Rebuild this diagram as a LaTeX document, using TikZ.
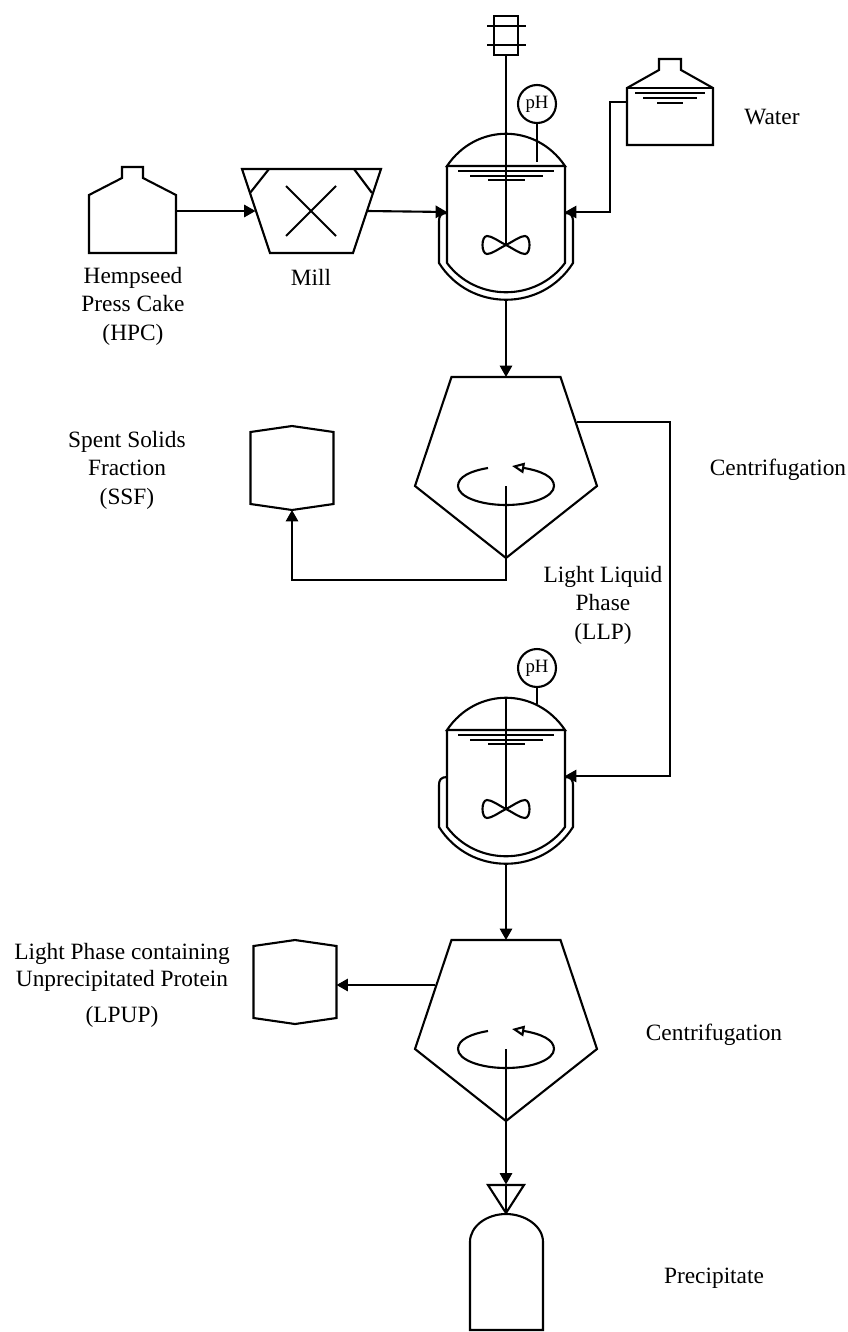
\documentclass[tikz,border=0pt]{standalone}
\usepackage{fontspec}
\setmainfont{Liberation Serif}
\usepackage{tikz}
\usetikzlibrary{arrows.meta}

\tikzset{
    port/.style={inner sep=0pt, outer sep=0pt, minimum size=0pt},
    body/.style={inner sep=0pt, outer sep=0pt, minimum height=0pt},
    label/.style={align=center, inner sep=0pt, font=\fontsize{13.3}{16.2}\selectfont},
    gauge/.style={draw, circle, inner sep=0pt, minimum size=0.76cm, font=\fontsize{10.7}{12}\selectfont},
    flow/.style={-{Triangle[length=6.5pt, width=7pt]}},
    reactor/.pic={
        \draw (-59,0) .. controls (-30,-43) and (30,-43) .. (59,0) -- cycle;
        \draw (-59,0) -- (-59,97) .. controls (-30,136) and (30,136) .. (59,97) -- (59,0);
        \draw (-59,47) .. controls (-65,47) and (-67,50) .. (-67,55) -- (-67,97)
            .. controls (-36,146) and (36,146) .. (67,97) -- (67,55)
            .. controls (67,50) and (65,47) .. (59,47);
        \draw (-48,5) -- (48,5);
        \draw (-36,10) -- (37,10);
        \draw (-18,14) -- (19,14);
        \draw (0,-32) -- (0,79);
        \foreach \s in {-1,1} {
            \draw (0,79) .. controls (\s*8,75) and (\s*14,70) .. (\s*19,70)
                .. controls (\s*25,70) and (\s*25,88) .. (\s*19,88)
                .. controls (\s*14,88) and (\s*8,83) .. (0,79);
        }
        \node[port] (-top) at (0,-32) {};
        \node[port] (-out) at (0,134) {};
        \node[body, minimum width=2.36cm] (-body) at (0,46) {};
    },
    centrifuge/.pic={
        \draw (-54.5,0) -- (54.5,0) -- (91,109) -- (0,181) -- (-91,109) -- cycle;
        \draw (0,109) -- (0,181);
        \draw[-{Triangle[open, length=7pt, width=6pt, fill=white]}] (-18,91)
            .. controls (-36,94) and (-48,100) .. (-48,109)
            .. controls (-48,119.5) and (-26.5,128) .. (0,128)
            .. controls (26.5,128) and (48,119.5) .. (48,109)
            .. controls (48,100) and (36,94) .. (6,89);
        \node[port] (-in) at (0,0) {};
        \node[port] (-tip) at (0,181) {};
        \node[body, minimum width=2.84cm] (-side) at (0,45) {};
    },
    drum/.pic={
        \draw (-41.5,-36) -- (0,-42) -- (41.5,-36) -- (41.5,36) -- (0,42) -- (-41.5,36) -- cycle;
        \node[inner sep=0pt, outer sep=0pt, minimum width=1.66cm, minimum height=1.68cm] (-body) at (0,0) {};
    }
}

\begin{document}
\begin{tikzpicture}[x=0.02cm, y=-0.02cm, line width=1.2pt, line join=miter]
    \useasboundingbox (0,0) rectangle (848,1332);

    % hemp cake bin
    \draw (89,253) -- (89,195) -- (122,178) -- (122,167) -- (143,167) -- (143,178) -- (176,195) -- (176,253) -- cycle;
    \node[body, minimum width=1.74cm] (cake) at (132.5,211) {};

    % mill
    \draw (242,169) -- (381,169) -- (353,253) -- (270,253) -- cycle;
    \draw (269,169) -- (250,193);
    \draw (354,169) -- (372,193);
    \draw (286,186) -- (336,236);
    \draw (336,186) -- (286,236);
    \node[body, minimum width=2.24cm] (mill) at (311.5,211) {};

    % first tank with drive
    \pic (tankA) at (506,166) {reactor};
    \node[draw, inner sep=0pt, minimum width=0.49cm, minimum height=0.78cm] (drive) at (506,35.5) {};
    \draw (487,26) -- (526,26);
    \draw (487,45) -- (526,45);
    \node[gauge] (phA) at (537,104) {pH};
    \coordinate (phAend) at (537,162);

    % water tank
    \draw (627,145) -- (627,88) -- (659,70) -- (659,59) -- (681,59) -- (681,70) -- (713,88) -- (713,145) -- cycle;
    \draw (627,88) -- (713,88);
    \draw (635,93) -- (705,93);
    \draw (643,98) -- (697,98);
    \draw (657,103) -- (683,103);
    \node[body, minimum width=1.72cm] (water) at (670,102) {};

    % centrifuges and drums
    \pic (sepA) at (506,377) {centrifuge};
    \pic (ssf) at (292,468) {drum};
    \pic (tankB) at (506,730) {reactor};
    \node[gauge] (phB) at (537,668) {pH};
    \coordinate (phBend) at (537,704);
    \pic (sepB) at (506,940) {centrifuge};
    \pic (lpup) at (295,982) {drum};

    % funnel and bottle
    \draw (488,1185) -- (524,1185) -- (506,1213) -- cycle;
    \node[inner sep=0pt, outer sep=0pt, minimum width=0.7cm, minimum height=0.58cm] (funnel) at (506,1199) {};
    \draw (470,1330) -- (470,1242) .. controls (470,1226) and (487,1214) .. (506,1214)
        .. controls (525,1214) and (543,1226) .. (543,1242) -- (543,1330) -- cycle;
    \node[port] (bottle) at (506,1214) {};

    % connectors
    \draw[flow] (cake.east) -- (mill.west);
    \draw[flow] (mill.east) -- (tankA-body.west);
    \draw[flow] (water.west) -- ++(-17,0) |- (tankA-body.east);
    \draw (drive.south) -- (tankA-top);
    \draw (phA.south) -- (phAend);
    \draw[flow] (tankA-out) -- (sepA-in);
    \draw[flow] (sepA-tip) -- ++(0,22) -| (ssf-body.south);
    \draw[flow] (sepA-side.east) -- ++(93,0) |- (tankB-body.east);
    \draw (phB.south) -- (phBend);
    \draw[flow] (tankB-out) -- (sepB-in);
    \draw[flow] (sepB-side.west) -- (sepB-side.west -| lpup-body.east);
    \draw[flow] (sepB-tip) -- (funnel.north);
    \draw (funnel.north) -- (bottle);

    % labels
    \node[label] (cakelabel) at (133,306) {Hempseed\\Press Cake\\(HPC)};
    \node[label] (milllabel) at (311,277) {Mill};
    \node[label] (waterlabel) at (772,117) {Water};
    \node[label] (ssflabel) at (127,470) {Spent Solids\\Fraction\\(SSF)};
    \node[label] (centlabelA) at (778,470) {Centrifugation};
    \node[label] (llplabel) at (603,605) {Light Liquid\\Phase\\(LLP)};
    \node[label] (lpuplabel) at (122,985) {Light Phase containing\\[-0.8pt]Unprecipitated Protein\\[4.3pt](LPUP)};
    \node[label] (centlabelB) at (714,1035) {Centrifugation};
    \node[label] (preclabel) at (714,1278) {Precipitate};
\end{tikzpicture}
\end{document}
